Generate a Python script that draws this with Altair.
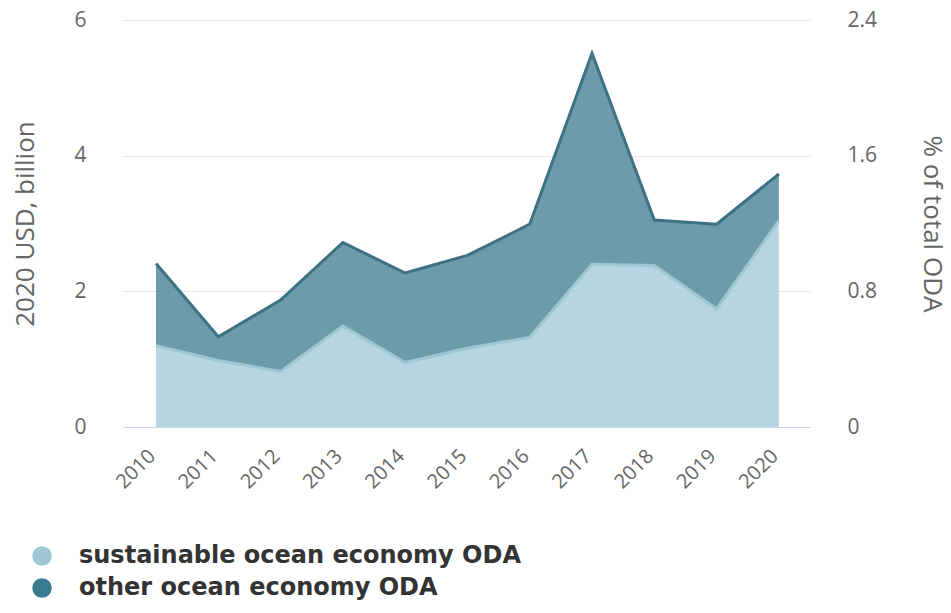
import altair as alt
import pandas as pd

years = list(range(2010, 2021))
sustainable = [1.20, 0.98, 0.82, 1.49, 0.95, 1.16, 1.32, 2.40, 2.38, 1.74, 3.04]
other = [1.21, 0.35, 1.05, 1.23, 1.32, 1.37, 1.67, 3.11, 0.67, 1.25, 0.69]
series_names = ["sustainable ocean economy ODA", "other ocean economy ODA"]
series_colors = ["#9ec7d6", "#3c7a8e"]
usd_ticks = [0, 2, 4, 6]
pct_ticks = [0, 0.8, 1.6, 2.4]

df = pd.DataFrame({"year": years, "sus": sustainable, "oth": other})

AX_FONT = "Open Sans"
GREY = "#666666"

x_enc = alt.X(
    "year:Q",
    scale=alt.Scale(domain=[2009.47, 2020.5], nice=False, zero=False),
    axis=alt.Axis(
        values=years, format="d", labelAngle=-45, labelAlign="right",
        labelBaseline="alphabetic", title=None, grid=False,
        ticks=False, domain=True, domainColor="#ccd6eb", domainWidth=1,
        labelPadding=30, labelFontSize=20, labelFont=AX_FONT, labelColor=GREY,
        zindex=1,
    ),
)

left_scale = alt.Scale(domain=[0, 6], nice=False)
left_axis = alt.Axis(
    values=usd_ticks, title="2020 USD, billion", grid=True, gridColor="#e6e6e6",
    domain=False, ticks=False, labelPadding=37, labelFontSize=21, labelFont=AX_FONT,
    labelColor=GREY, titleFontSize=26, titleFont=AX_FONT, titleColor=GREY,
    titleFontWeight="normal", titleAngle=-90, titleAlign="center",
    titleBaseline="middle", titleX=-98, titleY=203.5,
)

base = alt.Chart(df)

areas = (
    base.transform_fold(["sus", "oth"], as_=["key", "value"])
    .transform_calculate(
        series=f"datum.key == 'sus' ? '{series_names[0]}' : '{series_names[1]}'",
        ord="datum.key == 'sus' ? 0 : 1",
    )
    .mark_area(opacity=0.75)
    .encode(
        x=x_enc,
        y=alt.Y("value:Q", stack="zero", scale=left_scale, axis=left_axis),
        color=alt.Color(
            "series:N",
            scale=alt.Scale(domain=series_names, range=series_colors),
            legend=alt.Legend(
                orient="none", legendX=-93, legendY=524, title=None,
                symbolType="circle", symbolSize=380, symbolOpacity=1,
                symbolStrokeWidth=0, labelFontSize=24, labelFont="DejaVu Sans",
                labelFontWeight="bold", labelColor="#333333", labelOffset=25,
                labelLimit=0, rowPadding=8, padding=0,
            ),
        ),
        order=alt.Order("ord:Q"),
    )
)

line_sus = base.mark_line(color="#9ec7d6", strokeWidth=3).encode(
    x=x_enc, y=alt.Y("sus:Q", scale=left_scale, axis=left_axis)
)
line_tot = (
    base.transform_calculate(total="datum.sus + datum.oth")
    .mark_line(color="#3d7184", strokeWidth=3)
    .encode(x=x_enc, y=alt.Y("total:Q", scale=left_scale, axis=left_axis))
)

left = alt.layer(areas, line_sus, line_tot)

right = base.mark_rule(strokeOpacity=0).encode(
    y=alt.YDatum(
        0, type="quantitative",
        scale=alt.Scale(domain=[0, 2.4], nice=False),
        axis=alt.Axis(
            orient="right", values=pct_ticks, format=".1~f", title="% of total ODA",
            grid=False, domain=False, ticks=False, labelPadding=37,
            labelFontSize=21, labelFont=AX_FONT, labelColor=GREY,
            titleFontSize=26, titleFont=AX_FONT, titleColor=GREY,
            titleFontWeight="normal", titleAngle=90, titleAlign="center",
            titleBaseline="middle", titleX=121, titleY=203.5,
        ),
    )
)

chart = (
    alt.layer(left, right)
    .resolve_scale(y="independent")
    .properties(
        width=687, height=407,
        autosize=alt.AutoSizeParams(type="none"),
        padding={"left": 123, "top": 20, "right": 141, "bottom": 186},
        background="white",
    )
    .configure_view(stroke=None)
)

chart.save("out.html", embed_options={"renderer": "svg", "actions": False})
